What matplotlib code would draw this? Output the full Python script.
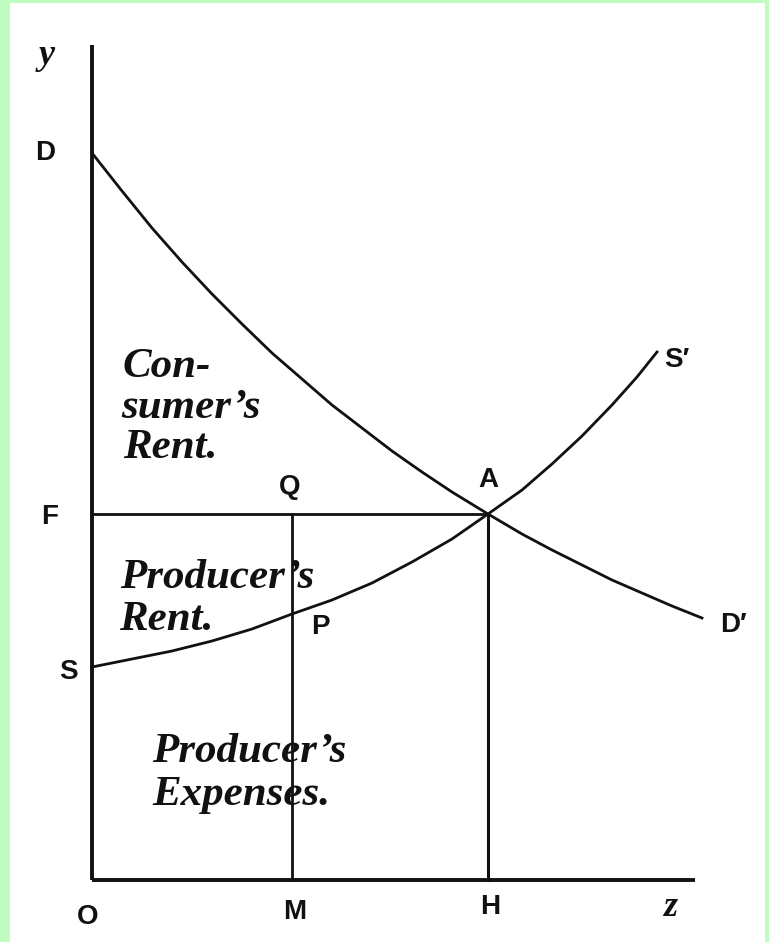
import matplotlib
matplotlib.use("Agg")
import matplotlib.pyplot as plt
from matplotlib.patches import Rectangle

# ---- data (units: 1 = 100 px) ----
demand_x = [0.00, 0.30, 0.60, 0.90, 1.20, 1.50, 1.80, 2.10, 2.40, 2.70, 3.00,
            3.30, 3.60, 3.96, 4.30, 4.60, 4.90, 5.20, 5.50, 5.80, 6.10]
demand_y = [7.27, 6.89, 6.52, 6.18, 5.86, 5.56, 5.27, 5.01, 4.75, 4.52, 4.29,
            4.08, 3.88, 3.66, 3.46, 3.30, 3.15, 3.00, 2.87, 2.74, 2.62]
supply_x = [0.00, 0.40, 0.80, 1.20, 1.60, 2.00, 2.40, 2.80, 3.20, 3.60, 3.96,
            4.30, 4.60, 4.90, 5.20, 5.45, 5.65]
supply_y = [2.13, 2.21, 2.29, 2.39, 2.51, 2.66, 2.80, 2.97, 3.18, 3.41, 3.66,
            3.90, 4.16, 4.44, 4.75, 5.03, 5.28]
eq_x, eq_y = 3.96, 3.66      # point A
m_x = 2.00                   # point M
axis_x_end, axis_y_end = 6.03, 8.35

point_labels = ["D", "F", "S", "Q", "A", "P", "S\u2032", "D\u2032", "O", "M", "H"]
point_xy = [(-0.47, 7.27), (-0.42, 3.63), (-0.24, 2.08), (1.98, 3.93), (3.96, 4.00),
            (2.28, 2.53), (5.85, 5.20), (6.41, 2.55), (-0.04, -0.37), (2.03, -0.32),
            (3.98, -0.27)]
# area captions, one entry per printed line (baseline positions)
area_lines = ["Con-", "sumer\u2019s", "Rent.", "Producer\u2019s", "Rent.",
              "Producer\u2019s", "Expenses."]
area_xy = [(0.31, 5.03), (0.29, 4.62), (0.31, 4.22), (0.28, 2.92), (0.27, 2.50),
           (0.60, 1.18), (0.60, 0.75)]

fig = plt.figure(figsize=(7.69, 9.42), dpi=100)
fig.patch.set_facecolor("#c0fcc0")

ax = fig.add_axes([0, 0, 1, 1])
ax.set_xlim(-0.92, 6.77)
ax.set_ylim(-0.62, 8.80)
ax.axis("off")

panel = Rectangle((10 / 769, 0), 755 / 769, 939 / 942, transform=fig.transFigure,
                  facecolor="white", edgecolor="none", zorder=-10)
ax.add_patch(panel)

ink = "#111111"
# axes
ax.plot([0, 0], [0, axis_y_end], color=ink, lw=2.8, solid_capstyle="butt")
ax.plot([0, axis_x_end], [0, 0], color=ink, lw=2.8, solid_capstyle="butt")
# curves
ax.plot(demand_x, demand_y, color=ink, lw=2.0, solid_joinstyle="round")
ax.plot(supply_x, supply_y, color=ink, lw=2.0, solid_joinstyle="round")
# guide lines
ax.plot([0, eq_x], [eq_y, eq_y], color=ink, lw=2.0)
ax.plot([eq_x, eq_x], [0, eq_y], color=ink, lw=2.2)
ax.plot([m_x, m_x], [0, eq_y], color=ink, lw=2.0)

for lab, (x, y) in zip(point_labels, point_xy):
    t = ax.text(x, y, lab, fontsize=20, fontweight="bold", family="Liberation Sans",
                ha="center", va="center", color=ink)
    t.set_clip_path(panel)

ax.text(-0.45, 8.25, "y", fontsize=26, fontweight="bold", style="italic",
        family="Liberation Serif", ha="center", va="center", color=ink)
ax.text(5.78, -0.27, "z", fontsize=26, fontweight="bold", style="italic",
        family="Liberation Serif", ha="center", va="center", color=ink)

for txt, (x, y) in zip(area_lines, area_xy):
    ax.text(x, y, txt, fontsize=31, fontweight="bold", style="italic",
            family="Liberation Serif", ha="left", va="baseline", color=ink)

fig.savefig("out.png", dpi=100)
